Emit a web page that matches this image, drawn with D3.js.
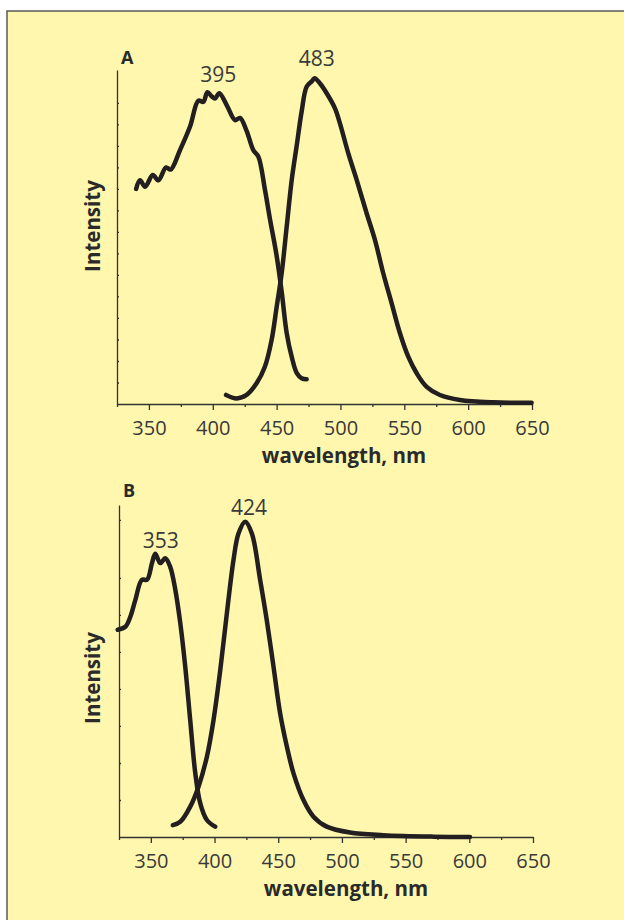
<!DOCTYPE html>
<html>
<head>
<meta charset="utf-8">
<script src="https://cdn.jsdelivr.net/npm/d3@7"></script>
<style>
  body { margin: 0; background: #fff; }
  svg { display: block; }
  .tick-label { font-family: "Open Sans", sans-serif; font-size: 20px; fill: #3a3a3a; }
  .axis-title { font-family: "Open Sans", sans-serif; font-size: 20.5px; font-weight: bold; fill: #2a2a2a; }
  .peak { font-family: "Open Sans", sans-serif; font-size: 21px; fill: #3a3a3a; }
  .panel-id { font-family: "Open Sans", sans-serif; font-size: 18px; font-weight: bold; fill: #2a2a2a; }
</style>
</head>
<body>
<svg></svg>
<script>
// wavelength ticks shared by both panels
const xTickLabels = [350, 400, 450, 500, 550, 600, 650];
const xMinorTicks = [325, 375, 425, 475, 525, 575, 625];

// panel A: excitation (peak 395) and emission (peak 483), intensity in tick units
const excitationA = [
  [340, 10.0], [343, 10.4], [347, 10.1], [353, 10.65], [357.4, 10.4], [363.4, 11.0],
  [367, 10.9], [374.3, 11.8], [382.2, 12.9], [388.7, 14.1], [392.6, 14.05], [395.8, 14.5],
  [399.2, 14.3], [401.7, 14.2], [405.1, 14.45], [410.9, 13.9], [417.4, 13.2], [421.3, 13.3],
  [426.5, 12.7], [431.8, 11.8], [435.7, 11.5], [440.9, 9.95], [444.8, 8.6], [450, 6.9],
  [454, 5.2], [457.9, 3.3], [461.8, 2.2], [465.7, 1.45], [469.6, 1.2], [473.5, 1.15]
];
const emissionA = [
  [410.4, 0.42], [418.7, 0.26], [426.5, 0.42], [434.3, 0.96], [440.8, 1.73], [446.1, 2.98],
  [450, 4.5], [454, 6.1], [457.9, 8.25], [461.8, 10.4], [465.7, 12.0], [469.6, 13.6],
  [473.5, 14.75], [477.5, 15.0], [479.8, 15.15], [484, 14.9], [489.2, 14.45], [495.7, 13.75],
  [499.6, 13.05], [506.1, 11.66], [512.7, 10.42], [520.5, 8.87], [527, 7.63], [533.5, 6.08],
  [540.1, 4.68], [546.6, 3.29], [553.1, 2.2], [559.7, 1.43], [567.5, 0.8], [577.9, 0.42],
  [593.6, 0.19], [619.7, 0.08], [649.7, 0.06]
];
const yTicksA = [1, 2, 3, 4, 5, 6, 7, 8, 9, 10, 11, 12, 13, 14];

// panel B: excitation (peak 353) and emission (peak 424)
const excitationB = [
  [324, 5.6], [330, 5.68], [333.9, 5.95], [337.8, 6.4], [343, 6.95], [347, 6.95],
  [350.9, 7.4], [353.5, 7.65], [357.4, 7.4], [361.3, 7.53], [365.2, 7.3], [369.2, 6.68],
  [373.1, 5.78], [377, 4.6], [380.9, 3.16], [384.9, 1.72], [388.8, 0.91], [394, 0.46],
  [400.5, 0.28]
];
const emissionB = [
  [367.3, 0.32], [373.1, 0.41], [380.9, 0.82], [387.4, 1.36], [394, 2.17], [399.2, 3.16],
  [404.5, 4.51], [409.7, 6.05], [414.9, 7.49], [418.8, 8.2], [424.1, 8.52], [429.3, 8.2],
  [435.8, 6.95], [441, 5.86], [446.3, 4.6], [451.5, 3.34], [456.8, 2.44], [462, 1.72],
  [469.8, 1.0], [477.7, 0.55], [488.1, 0.28], [506.4, 0.12], [532.5, 0.05], [571.7, 0.01],
  [600.5, 0]
];
const yTicksB = [1, 2, 3, 4, 5, 6, 7, 8.57];

const panelLabels = ['A', 'B'];
const peakLabelsA = [[395, 14.5, '395'], [483, 15.15, '483']];
const peakLabelsB = [[353, 7.65, '353'], [424, 8.52, '424']];

const svgWidth = 624;
const svgHeight = 920;

const svg = d3.select('svg')
    .attr('width', svgWidth)
    .attr('height', svgHeight);

// yellow box with grey frame
svg.append('rect')
    .attr('x', 7)
    .attr('y', 11)
    .attr('width', 640)
    .attr('height', 940)
    .attr('fill', '#fff7ae')
    .attr('stroke', '#5a5a5a')
    .attr('stroke-width', 1.5);

const panels = [
  { id: panelLabels[0], left: 117, right: 532, top: 70, bottom: 404, ymax: 15.53,
    yTicks: yTicksA, series: [excitationA, emissionA], peaks: peakLabelsA,
    peakDx: [12, -2], peakDy: [-10, -12], titleY: 226, idY: 64, xTitle: 344 },
  { id: panelLabels[1], left: 119, right: 533, top: 505, bottom: 837, ymax: 8.97,
    yTicks: yTicksB, series: [excitationB, emissionB], peaks: peakLabelsB,
    peakDx: [6, 4], peakDy: [-6, -7], titleY: 678, idY: 497, xTitle: 346 }
];

panels.forEach((p) => {
  const g = svg.append('g');

  const x = d3.scaleLinear()
      .domain([325, 650])
      .range([p.left, p.right]);

  const y = d3.scaleLinear()
      .domain([0, p.ymax])
      .range([p.bottom, p.top]);

  // x axis: major ticks labelled, minor ticks short
  const xAxis = g.append('g')
      .attr('transform', `translate(0, ${p.bottom})`)
      .call(d3.axisBottom(x).tickValues(xTickLabels).tickSize(6).tickPadding(11).tickSizeOuter(0));
  g.append('g')
      .attr('transform', `translate(0, ${p.bottom})`)
      .call(d3.axisBottom(x).tickValues(xMinorTicks).tickSize(3).tickFormat('').tickSizeOuter(0))
      .select('.domain').remove();

  xAxis.selectAll('text')
      .attr('class', 'tick-label')
      .attr('fill', null);

  // y axis: small inward ticks, no labels
  g.append('g')
      .attr('transform', `translate(${p.left}, 0)`)
      .call(d3.axisRight(y).tickValues(p.yTicks).tickSize(2).tickFormat('').tickSizeOuter(0));

  g.selectAll('.domain, .tick line')
      .attr('stroke', '#333')
      .attr('stroke-width', 1.3);

  const line = d3.line()
      .x((d) => x(d[0]))
      .y((d) => y(d[1]))
      .curve(d3.curveCatmullRom.alpha(0.5));

  p.series.forEach((s) => {
    g.append('path')
        .datum(s)
        .attr('d', line)
        .attr('fill', 'none')
        .attr('stroke', '#231f20')
        .attr('stroke-width', 4.5)
        .attr('stroke-linecap', 'round')
        .attr('stroke-linejoin', 'round');
  });

  p.peaks.forEach((d, i) => {
    g.append('text')
        .attr('class', 'peak')
        .attr('x', x(d[0]) + p.peakDx[i])
        .attr('y', y(d[1]) + p.peakDy[i])
        .attr('text-anchor', 'middle')
        .text(d[2]);
  });

  g.append('text')
      .attr('class', 'panel-id')
      .attr('x', p.left + 4)
      .attr('y', p.idY)
      .text(p.id);

  g.append('text')
      .attr('class', 'axis-title')
      .attr('x', p.xTitle)
      .attr('y', p.bottom + 59)
      .attr('text-anchor', 'middle')
      .text('wavelength, nm');

  g.append('text')
      .attr('class', 'axis-title')
      .attr('transform', `translate(100, ${p.titleY}) rotate(-90)`)
      .attr('text-anchor', 'middle')
      .text('Intensity');
});
</script>
</body>
</html>
